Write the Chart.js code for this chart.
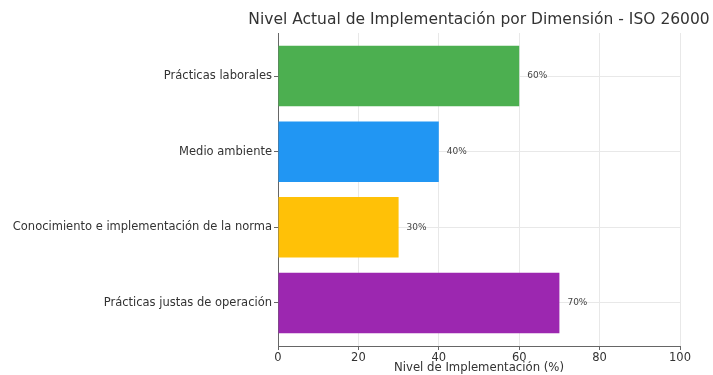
<!DOCTYPE html>
<html>
<head>
<meta charset="utf-8">
<script src="https://cdn.jsdelivr.net/npm/chart.js@4"></script>
<style>
  html, body { margin: 0; padding: 0; background: #fff; }
  #wrap { width: 713px; height: 375px; }
</style>
</head>
<body>
<div id="wrap"><canvas id="chart"></canvas></div>
<script>
// Dimensions, top to bottom as in the picture
const dimensiones = [
    'Prácticas laborales',
    'Medio ambiente',
    'Conocimiento e implementación de la norma',
    'Prácticas justas de operación'
];
const nivel = [60, 40, 30, 70];
const colores = ['#4CAF50', '#2196F3', '#FFC107', '#9C27B0'];
const xTicks = [0, 20, 40, 60, 80, 100];
const titulo = 'Nivel Actual de Implementación por Dimensión - ISO 26000';

const FONT = "'DejaVu Sans', sans-serif";
const TEXT = '#333';

// Title centred over the plot area (it is wider than the plot, so drawn by hand)
const plotTitle = {
    id: 'plotTitle',
    afterDraw(chart) {
        let ctx = chart.ctx;
        let area = chart.chartArea;
        ctx.save();
        ctx.font = '15.5px ' + FONT;
        ctx.fillStyle = TEXT;
        ctx.textAlign = 'center';
        ctx.textBaseline = 'middle';
        ctx.fillText(titulo, (area.left + area.right) / 2, 20);
        ctx.restore();
    }
};

// Writes "60%" etc. right of each bar
const valueLabels = {
    id: 'valueLabels',
    afterDatasetsDraw(chart) {
        let ctx = chart.ctx;
        let meta = chart.getDatasetMeta(0);
        ctx.save();
        ctx.font = '9px ' + FONT;
        ctx.fillStyle = '#444';
        ctx.textBaseline = 'middle';
        ctx.textAlign = 'left';
        meta.data.forEach((bar, i) => {
            ctx.fillText(nivel[i] + '%', bar.x + 8, bar.y);
        });
        ctx.restore();
    }
};

let ctx = document.getElementById('chart').getContext('2d');

new Chart(ctx, {
    type: 'bar',
    data: {
        datasets: [{
            data: nivel.map((v, i) => ({ x: v, y: i })),
            backgroundColor: colores,
            borderWidth: 0,
            categoryPercentage: 1,
            barPercentage: 0.8
        }]
    },
    options: {
        indexAxis: 'y',
        responsive: true,
        maintainAspectRatio: false,
        animation: false,
        layout: { padding: { left: 0, right: 33, top: 33, bottom: 0 } },
        plugins: {
            legend: { display: false },
            tooltip: { enabled: false },
            title: { display: false }
        },
        scales: {
            x: {
                type: 'linear',
                min: 0,
                max: 100,
                afterBuildTicks: s => { s.ticks = xTicks.map(v => ({ value: v })); },
                afterFit: s => { s.height = 29; },
                ticks: {
                    color: TEXT,
                    font: { family: FONT, size: 11.5 },
                    padding: 1,
                    maxRotation: 0
                },
                grid: { color: '#e8e8e8', tickColor: '#666', tickLength: 4 },
                border: { display: true, color: '#666', width: 1 },
                title: {
                    display: true,
                    text: 'Nivel de Implementación (%)',
                    color: TEXT,
                    font: { family: FONT, size: 11.7 },
                    padding: { top: 0, bottom: 0 }
                }
            },
            y: {
                type: 'linear',
                reverse: true,
                offset: false,
                min: -0.57,
                max: 3.57,
                afterBuildTicks: s => { s.ticks = dimensiones.map((d, i) => ({ value: i })); },
                afterFit: s => { s.width = 278; },
                ticks: {
                    color: TEXT,
                    font: { family: FONT, size: 11.5 },
                    padding: 2,
                    callback: v => dimensiones[v]
                },
                grid: { offset: false, color: '#e8e8e8', tickColor: '#666', tickLength: 4 },
                border: { display: true, color: '#666', width: 1 }
            }
        }
    },
    plugins: [valueLabels, plotTitle]
});
</script>
</body>
</html>
